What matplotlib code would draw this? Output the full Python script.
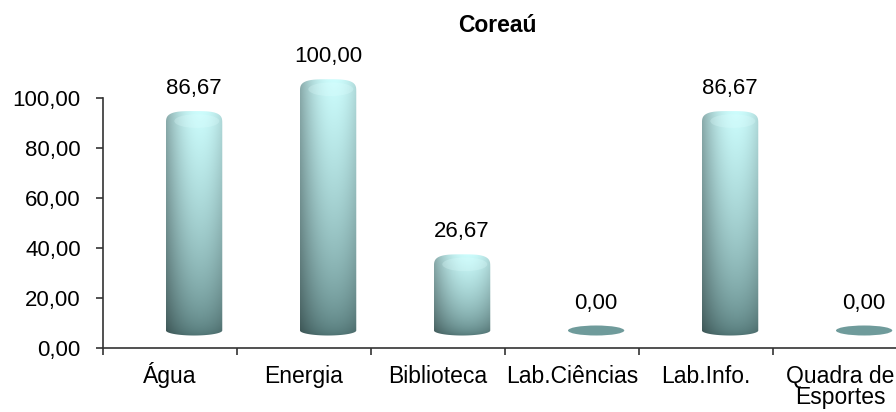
import numpy as np
import matplotlib
matplotlib.use("Agg")
import matplotlib.pyplot as plt
from matplotlib.patches import Ellipse, PathPatch
from matplotlib.path import Path
import matplotlib.transforms as mtransforms

plt.rcParams['font.family'] = ['Liberation Sans', 'DejaVu Sans']

# Data
categories = ["Água", "Energia", "Biblioteca", "Lab.Ciências", "Lab.Info.", "Quadra de\nEsportes"]
values = [86.67, 100.00, 26.67, 0.00, 86.67, 0.00]
title = "Coreaú"
yticks = [0, 20, 40, 60, 80, 100]

# 3D-look parameters (depth offset of the cylinders)
shift_x = 0.18
half_w = 0.21
base = 7.0
scale = 0.955
ry_top = 5.0
ry_bot = 2.0

fig = plt.figure(figsize=(8.96, 4.12), dpi=100)
ax = fig.add_axes([103 / 896, 64 / 412, 804 / 896, (348 - 60.5) / 412])
ax.set_xlim(-0.5, len(categories) - 0.5)
ax.set_ylim(0, 115)


def gradient_img(ny=200, nx=80):
    s = np.linspace(0, 1, ny)[:, None]          # 0 bottom, 1 top
    u = np.linspace(0, 1, nx)[None, :]          # 0 left, 1 right
    top = np.array([0.80, 0.99, 0.99])
    bot = np.array([0.30, 0.44, 0.44])
    vert = s ** 0.55
    img = bot + (top - bot) * vert[..., None]
    shade = 1 - 0.32 * (np.abs(u - 0.6) / 0.6) ** 2
    img = img * shade[..., None]
    return np.clip(img, 0, 1)


def cylinder_path(xc, b, t):
    x0, x1 = xc - half_w, xc + half_w
    th = np.linspace(np.pi, 2 * np.pi, 40)
    bottom = np.column_stack([xc + half_w * np.cos(th), b + ry_bot * np.sin(th)])
    th2 = np.linspace(0, np.pi, 60)
    c, s = np.cos(th2), np.sin(th2)
    # rounded (superellipse) dome on top
    p = 0.6
    topc = np.column_stack([xc + half_w * np.sign(c) * np.abs(c) ** p,
                            t + ry_top * np.abs(s) ** p])
    verts = np.vstack([[[x0, t]], bottom, [[x1, t]], topc, [[x0, t]]])
    return Path(verts, closed=True)


for i, v in enumerate(values):
    xc = i + shift_x
    if v == 0:
        ax.add_patch(Ellipse((xc, base), 2 * half_w, 2 * ry_bot,
                             facecolor="#6f9b9b", edgecolor="none", zorder=3))
        top_edge = base + ry_bot
    else:
        t = base + scale * v
        path = cylinder_path(xc, base, t)
        patch = PathPatch(path, facecolor="none", edgecolor="none")
        ax.add_patch(patch)
        im = ax.imshow(gradient_img(), extent=(xc - half_w, xc + half_w, base - ry_bot, t + ry_top),
                       origin="lower", aspect="auto", zorder=3, interpolation="bilinear")
        im.set_clip_path(patch)
        ax.add_patch(Ellipse((xc + 0.02, t + 1.0), 2 * half_w * 0.8, 2 * ry_top * 0.55,
                             facecolor="#e2ffff", edgecolor="none", alpha=0.25, zorder=4))
        top_edge = t + ry_top
    ax.text(xc, top_edge + 9, f"{v:.2f}".replace(".", ","), ha="center", va="center",
            fontsize=16, color="black")

ax.set_xlim(-0.5, len(categories) - 0.5)
ax.set_ylim(0, 115)

ax.set_yticks(yticks)
ax.set_yticklabels([f"{y:.2f}".replace(".", ",") for y in yticks], fontsize=16)
ax.set_xticks(range(len(categories)))
ax.set_xticklabels([])
ax.set_xticks(np.arange(-0.5, len(categories) + 0.5, 1), minor=True)
ax.tick_params(axis="x", which="major", length=0)
ax.tick_params(axis="x", which="minor", length=5, width=1.2, color="#333333", direction="out")
ax.tick_params(axis="y", length=5, width=1.2, color="#333333", pad=11)

# category labels, baselines aligned like in the original
for i, lab in enumerate(categories):
    for k, line in enumerate(lab.split("\n")):
        off = mtransforms.ScaledTranslation(0, -(35 + 21 * k) / 100, fig.dpi_scale_trans)
        ax.text(i, 0, line, ha="center", va="baseline", fontsize=16.5,
                transform=ax.get_xaxis_transform() + off)

for s in ["top", "right"]:
    ax.spines[s].set_visible(False)
ax.spines["left"].set_bounds(0, 100)
ax.spines["left"].set_color("#333333")
ax.spines["bottom"].set_color("#333333")
ax.spines["left"].set_linewidth(1.2)
ax.spines["bottom"].set_linewidth(1.2)

fig.text(497 / 896, 1 - 26 / 412, title, ha="center", va="center", fontsize=16.5, fontweight="bold")

fig.savefig("out.png", dpi=100)
